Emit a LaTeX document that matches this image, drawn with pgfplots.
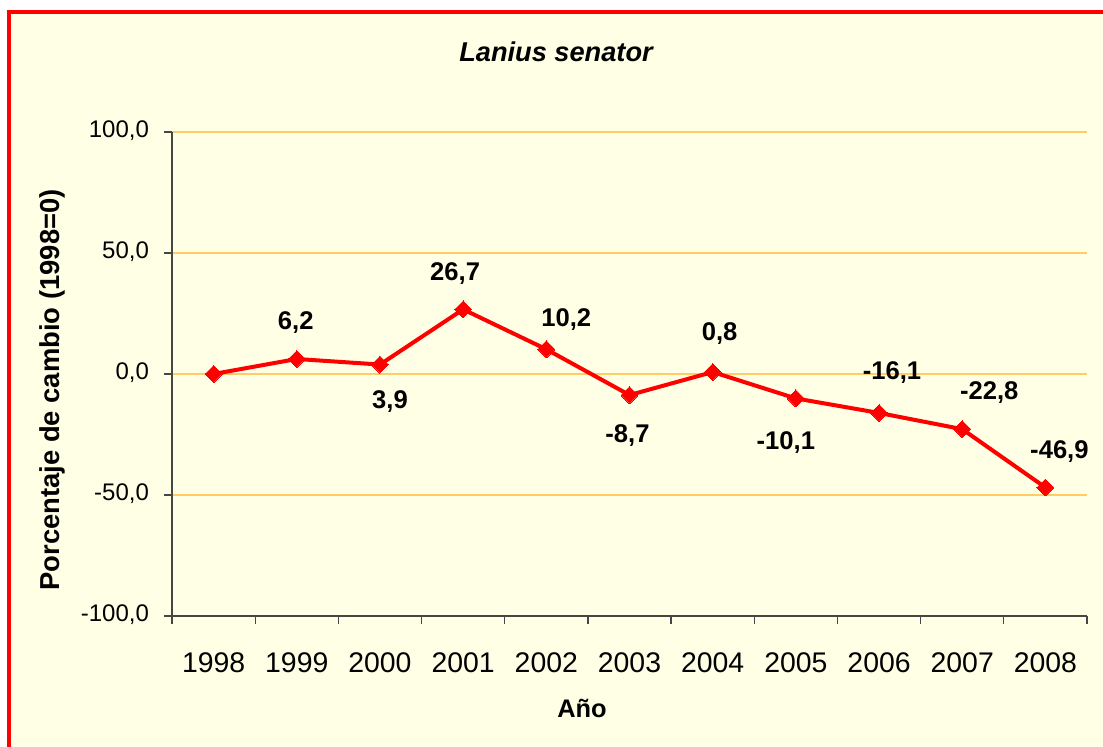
\documentclass[border=0pt]{standalone}
\usepackage{pgfplots}
\pgfplotsset{compat=1.18}
\usepackage{fontspec}
\setmainfont{Liberation Sans}
\definecolor{bgyellow}{RGB}{255,255,230}
\definecolor{gridcol}{RGB}{255,204,102}
\definecolor{axcol}{RGB}{70,70,70}
\begin{document}
\begin{tikzpicture}
\useasboundingbox (0,0) rectangle (551.5pt,373.5pt);
\fill[white] (0,0) rectangle (551.5pt,373.5pt);
\fill[bgyellow] (4.5pt,0) rectangle (551.5pt,367.5pt);
\draw[red, line width=2pt, line join=miter] (4.5pt,0) -- (4.5pt,367.5pt) -- (551.5pt,367.5pt);
\begin{axis}[
  at={(86pt,65.5pt)}, anchor=south west,
  scale only axis, width=457.5pt, height=242pt,
  xmin=-0.5, xmax=10.5, ymin=-100, ymax=100,
  axis x line*=bottom, axis y line*=left,
  axis line style={draw=axcol, line width=0.6pt},
  tick align=outside,
  xtick={0,...,10},
  xticklabels={1998,1999,2000,2001,2002,2003,2004,2005,2006,2007,2008},
  major x tick style={draw=none},
  minor xtick={-0.5,0.5,...,10.5},
  minor tick length=4pt,
  minor x tick style={draw=axcol, line width=0.6pt},
  major tick length=4pt,
  ytick={-100,-50,0,50,100},
  yticklabels={{-100,0},{-50,0},{0,0},{50,0},{100,0}},
  major y tick style={draw=axcol, line width=0.6pt},
  ymajorgrids,
  major grid style={draw=gridcol, line width=0.6pt},
  xticklabel style={anchor=base, yshift=-24.5pt, font=\fontsize{14.2}{16}\selectfont},
  yticklabel style={anchor=base east, xshift=-4pt, yshift=-3pt, font=\fontsize{12}{14}\selectfont},
  clip=false,
]
\addplot[red, line width=2pt, mark=square*, mark size=3pt,
  mark options={rotate=45, solid, fill=red, draw=red, line width=0pt}]
  coordinates {(0,0) (1,6.2) (2,3.9) (3,26.7) (4,10.2) (5,-8.7) (6,0.8) (7,-10.1) (8,-16.1) (9,-22.8) (10,-46.9)};
\addplot[draw=none, mark=none, nodes near coords, point meta=explicit symbolic,
  nodes near coords align={center},
  visualization depends on={value \thisrow{dx} \as \dx},
  visualization depends on={value \thisrow{dy} \as \dy},
  every node near coord/.append style={anchor=center, xshift=\dx pt, yshift=\dy pt,
    font=\bfseries\fontsize{12.8}{15}\selectfont, text=black}]
  table[x=x, y=y, meta=lab] {
x y dx dy lab
1 6.2 -0.5 18 6,2
2 3.9 5 -18.5 3,9
3 26.7 -4 18 26,7
4 10.2 10 15 10,2
5 -8.7 -1 -20.5 -8,7
6 0.8 3.5 19.5 0,8
7 -10.1 -5 -22 -10,1
8 -16.1 6.5 20 -16,1
9 -22.8 13.5 18.5 -22,8
10 -46.9 7 18 -46,9
};
\end{axis}
\node[font=\bfseries\itshape\fontsize{13.6}{16}\selectfont] at (278pt,347.5pt) {Lanius senator};
\node[font=\bfseries\fontsize{13.7}{16}\selectfont, rotate=90] at (26pt,178.5pt) {Porcentaje de cambio (1998=0)};
\node[font=\bfseries\fontsize{12.7}{15}\selectfont] at (291pt,19.5pt) {Año};
\end{tikzpicture}
\end{document}
